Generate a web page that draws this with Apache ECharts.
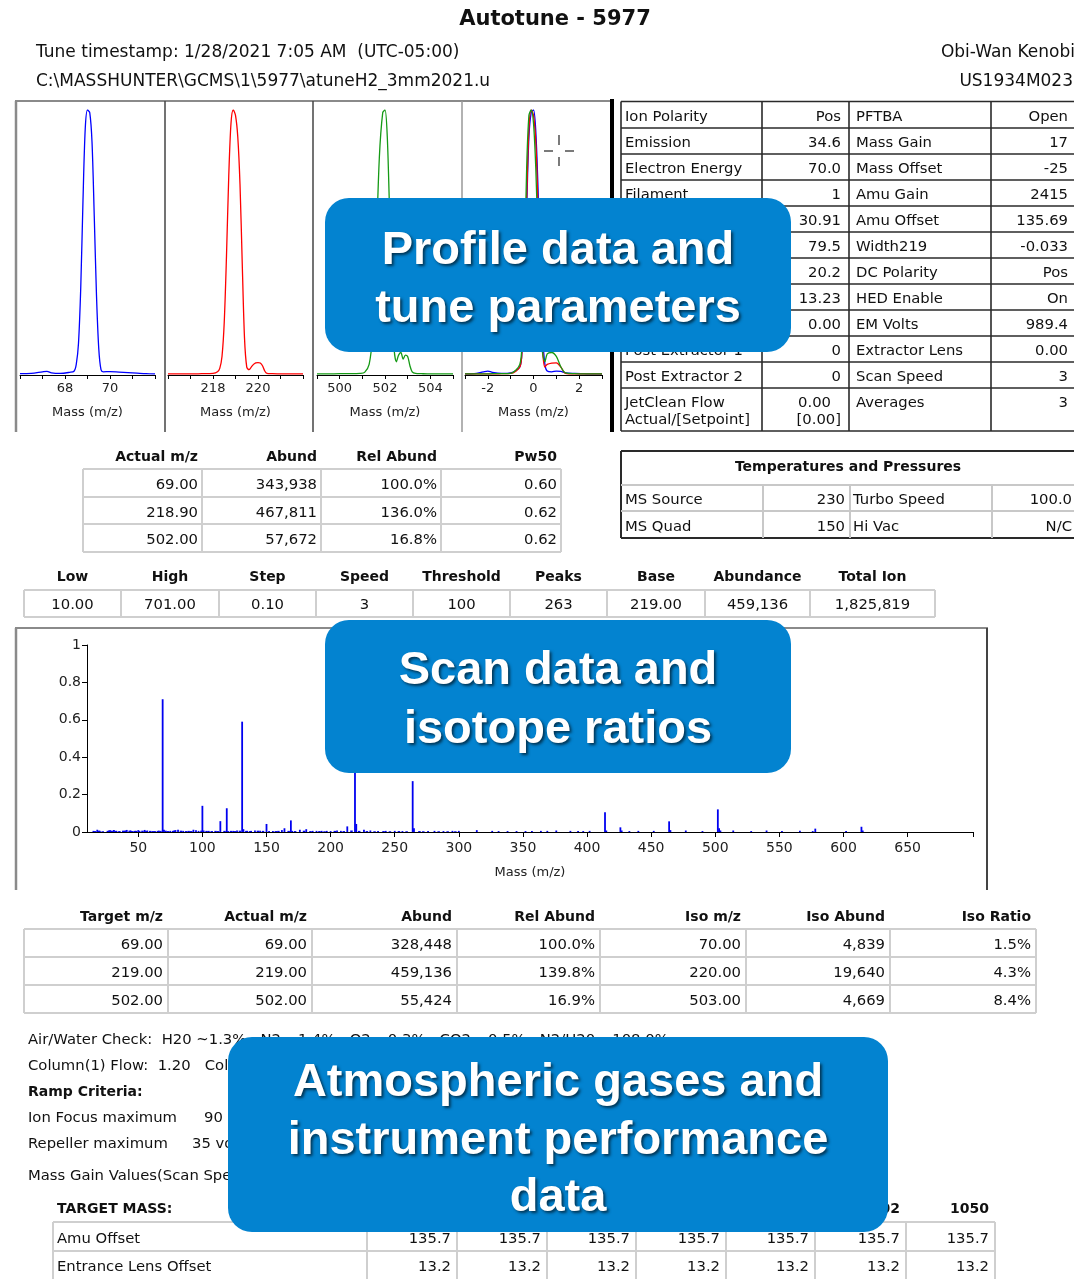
<!DOCTYPE html>
<html><head><meta charset="utf-8">
<script src="https://cdn.jsdelivr.net/npm/echarts@6/dist/echarts.min.js"></script>
<style>html,body{margin:0;padding:0;background:#fff}#c{width:1074px;height:1279px}</style>
</head><body><div id="c"></div>
<script>
// ---------------- DATA ----------------
const titleText = 'Autotune - 5977';
const timestampText = 'Tune timestamp: 1/28/2021 7:05 AM  (UTC-05:00)';
const pathText = 'C:\\MASSHUNTER\\GCMS\\1\\5977\\atuneH2_3mm2021.u';
const operatorText = 'Obi-Wan Kenobi';
const serialText = 'US1934M023';
const massAxisName = 'Mass (m/z)';

// profile peaks (relative)
const p69Mass  = [66.0,66.5,67.0,67.2,67.4,67.8,68.2,68.4,68.5,68.6,68.7,68.8,68.9,69.0,69.1,69.2,69.3,69.4,69.5,69.6,69.7,70.0,70.4,70.8,71.2,71.6,72.0];
const p69Abund = [0.005,0.006,0.012,0.014,0.008,0.006,0.010,0.014,0.04,0.12,0.33,0.66,0.93,1.0,0.99,0.88,0.60,0.30,0.10,0.02,0.012,0.013,0.011,0.009,0.007,0.005,0.004];
const p219Mass  = [216.0,216.5,217.0,217.5,218.0,218.2,218.3,218.4,218.5,218.6,218.7,218.8,218.9,219.0,219.1,219.2,219.3,219.4,219.5,219.6,219.7,219.8,219.9,220.0,220.1,220.2,220.3,220.4,220.6,221.0,221.5,222.0];
const p219Abund = [0.004,0.004,0.004,0.005,0.006,0.012,0.025,0.07,0.20,0.45,0.75,0.95,1.0,0.98,0.90,0.72,0.42,0.14,0.03,0.02,0.03,0.04,0.046,0.047,0.045,0.035,0.015,0.006,0.005,0.004,0.004,0.004];
const p502Mass  = [499.0,499.5,500.0,500.5,500.9,501.1,501.3,501.45,501.6,501.75,501.9,502.0,502.1,502.2,502.3,502.4,502.5,502.6,502.7,502.8,502.9,503.0,503.1,503.2,503.35,503.6,504.0,504.5,505.0];
const p502Abund = [0.004,0.004,0.005,0.005,0.006,0.010,0.04,0.15,0.45,0.82,0.99,1.0,0.90,0.62,0.30,0.10,0.05,0.075,0.085,0.06,0.075,0.07,0.035,0.012,0.006,0.005,0.004,0.004,0.004];
// overlay panel (offset from nominal mass)
const ovOffset = [-3,-2.6,-2.2,-2.0,-1.8,-1.4,-1.0,-0.6,-0.5,-0.4,-0.3,-0.2,-0.1,0,0.1,0.2,0.3,0.4,0.5,0.6,0.8,1.0,1.2,1.4,1.8,2.2,2.6,3.0];
const ov69  = [0.004,0.005,0.012,0.015,0.010,0.006,0.008,0.03,0.10,0.30,0.62,0.90,0.99,1.0,0.92,0.70,0.40,0.15,0.04,0.015,0.012,0.015,0.014,0.008,0.006,0.005,0.004,0.004];
const ov219 = [0.004,0.004,0.004,0.004,0.004,0.005,0.006,0.03,0.10,0.32,0.66,0.93,1.0,0.98,0.88,0.62,0.30,0.09,0.03,0.04,0.045,0.046,0.03,0.006,0.004,0.004,0.004,0.004];
const ov502 = [0.004,0.004,0.004,0.004,0.005,0.005,0.006,0.04,0.14,0.40,0.78,0.98,1.0,0.95,0.78,0.50,0.20,0.08,0.05,0.08,0.085,0.07,0.03,0.008,0.005,0.004,0.004,0.004];

// scan spectrum
const scanMass  = [15,18,20,28,31,33,41,44,50,51,55,57,63,66,69,70,75,79,81,85,93,95,97,100,101,105,114,119,120,124,127,131,132,135,138,141,145,150,152,155,162,164,169,170,176,181,186,189,193,197,200,205,208,213,219,220,226,231,237,243,250,256,264,265,276,281,288,295,300,314,326,331,338,345,352,357,364,369,376,387,393,397,402,414,415,426,427,433,440,452,464,465,477,490,502,503,504,514,528,540,552,566,576,578,602,614,615];
const scanAbund = [0.006,0.012,0.006,0.009,0.011,0.006,0.011,0.008,0.010,0.006,0.011,0.008,0.006,0.007,0.71,0.012,0.006,0.010,0.012,0.006,0.012,0.010,0.006,0.14,0.008,0.006,0.058,0.127,0.006,0.006,0.008,0.59,0.015,0.006,0.006,0.008,0.007,0.043,0.006,0.006,0.010,0.020,0.062,0.006,0.012,0.015,0.006,0.006,0.006,0.006,0.005,0.008,0.006,0.030,1.0,0.043,0.012,0.008,0.006,0.006,0.006,0.005,0.272,0.020,0.006,0.006,0.005,0.006,0.006,0.010,0.006,0.005,0.005,0.005,0.005,0.005,0.006,0.006,0.008,0.006,0.006,0.005,0.006,0.105,0.008,0.025,0.008,0.005,0.006,0.006,0.057,0.010,0.008,0.005,0.121,0.020,0.008,0.008,0.005,0.008,0.005,0.007,0.005,0.018,0.005,0.028,0.008];
// low-level baseline peaks
const noiseMass  = [16,19,22,26,27,29,32,35,38,39,40,43,45,47,48,53,56,59,61,65,67,71,73,77,78,83,87,89,91,99,103,107,110,112,117,122,125,129,134,137,143,147,157,159,167,172,179,184,191,195,203,210,216,222,228,234,241,246,253,259,269,272,284,291,297];
const noiseAbund = [0.005,0.007,0.004,0.006,0.008,0.007,0.006,0.005,0.007,0.006,0.008,0.007,0.005,0.006,0.006,0.007,0.005,0.006,0.005,0.006,0.006,0.007,0.005,0.006,0.008,0.007,0.005,0.006,0.005,0.007,0.006,0.005,0.006,0.005,0.006,0.006,0.005,0.007,0.006,0.005,0.007,0.006,0.005,0.006,0.006,0.005,0.007,0.005,0.005,0.004,0.006,0.005,0.008,0.006,0.005,0.004,0.005,0.004,0.005,0.004,0.005,0.004,0.004,0.004,0.004];
const scanTicks = [50,100,150,200,250,300,350,400,450,500,550,600,650];

// tables
const tuneRows = [
  ['Ion Polarity','Pos','PFTBA','Open'],
  ['Emission','34.6','Mass Gain','17'],
  ['Electron Energy','70.0','Mass Offset','-25'],
  ['Filament','1','Amu Gain','2415'],
  ['Repeller','30.91','Amu Offset','135.69'],
  ['Ion Focus','79.5','Width219','-0.033'],
  ['Entrance Lens','20.2','DC Polarity','Pos'],
  ['Ent Lens Offset','13.23','HED Enable','On'],
  ['Gain Factor','0.00','EM Volts','989.4'],
  ['Post Extractor 1','0','Extractor Lens','0.00'],
  ['Post Extractor 2','0','Scan Speed','3'],
  ['JetClean Flow|Actual/[Setpoint]','0.00|[0.00]','Averages','3']
];
const tempTitle = 'Temperatures and Pressures';
const tempRows = [['MS Source','230','Turbo Speed','100.0'],['MS Quad','150','Hi Vac','N/C']];
const profHeaders = ['Actual m/z','Abund','Rel Abund','Pw50'];
const profRows = [['69.00','343,938','100.0%','0.60'],['218.90','467,811','136.0%','0.62'],['502.00','57,672','16.8%','0.62']];
const scanHeaders = ['Low','High','Step','Speed','Threshold','Peaks','Base','Abundance','Total Ion'];
const scanValues = ['10.00','701.00','0.10','3','100','263','219.00','459,136','1,825,819'];
const isoHeaders = ['Target m/z','Actual m/z','Abund','Rel Abund','Iso m/z','Iso Abund','Iso Ratio'];
const isoRows = [
  ['69.00','69.00','328,448','100.0%','70.00','4,839','1.5%'],
  ['219.00','219.00','459,136','139.8%','220.00','19,640','4.3%'],
  ['502.00','502.00','55,424','16.9%','503.00','4,669','8.4%']
];
const airWater = 'Air/Water Check:  H20 ~1.3%   N2 ~1.4%   O2 ~0.3%   CO2 ~0.5%   N2/H20 ~108.0%';
const columnFlow = 'Column(1) Flow:  1.20   Column(1) Pressure';
const rampTitle = 'Ramp Criteria:';
const rampRows = [['Ion Focus maximum','90 volts'],['Repeller maximum','35 volts']];
const massGainTitle = 'Mass Gain Values(Scan Speed 3)';
const gainHeaders = ['TARGET MASS:','50','69','131','219','414','502','1050'];
const gainRows = [
  ['Amu Offset','135.7','135.7','135.7','135.7','135.7','135.7','135.7'],
  ['Entrance Lens Offset','13.2','13.2','13.2','13.2','13.2','13.2','13.2']
];
const callouts = [
  ['Profile data and','tune parameters'],
  ['Scan data and','isotope ratios'],
  ['Atmospheric gases and','instrument performance','data']
];

// ---------------- DRAWING ----------------
const FONT = "'DejaVu Sans', Verdana, sans-serif";
const ARIAL = "'Liberation Sans', Arial, sans-serif";
const TS = 14.8;   // table text size
const HS = 14;     // table header size
const g = [];
function txt(x, y, s, size, o) {
  o = o || {};
  const st = {text: s, fill: o.color || '#111', font: (o.bold ? 'bold ' : '') + size + 'px ' + (o.family || FONT),
    textAlign: o.align || 'left', textVerticalAlign: 'middle', align: o.align || 'left', verticalAlign: 'middle'};
  if (o.shadow) Object.assign(st, {textShadowColor: 'rgba(0,0,0,0.6)', textShadowBlur: 3, textShadowOffsetX: 2, textShadowOffsetY: 2});
  g.push({type: 'text', x: x, y: y + (o.dy === undefined ? 2 : o.dy), z: o.z || 10, silent: true, style: st});
}
function seg(x1, y1, x2, y2, color, w, z) {
  g.push({type: 'line', z: z || 5, silent: true, shape: {x1: x1, y1: y1, x2: x2, y2: y2}, style: {stroke: color, lineWidth: w}});
}
function gridLines(xs, ys, color, w) {
  xs.forEach(x => seg(x, ys[0], x, ys[ys.length - 1], color, w));
  ys.forEach(y => seg(xs[0], y, xs[xs.length - 1], y, color, w));
}

// header
txt(555, 18, titleText, 21, {bold: true, align: 'center'});
txt(36, 51, timestampText, 17);
txt(1075, 51, operatorText, 17, {align: 'right'});
txt(36, 80, pathText, 17);
txt(1073, 80, serialText, 17, {align: 'right'});

// profile frame
seg(15, 101, 612, 101, '#8a8a8a', 2);
seg(16, 101, 16, 432, '#8a8a8a', 2.5);
seg(165, 101, 165, 432, '#444', 1.5);
seg(313, 101, 313, 432, '#444', 1.5);
seg(462, 101, 462, 432, '#999', 1.5);
seg(612, 99, 612, 432, '#000', 4);
// cursor
seg(544, 151, 553, 151, '#222', 1.2); seg(565, 151, 574, 151, '#222', 1.2);
seg(559, 135, 559, 145, '#222', 1.2); seg(559, 157, 559, 166, '#222', 1.2);

// tune table
const tuneYs = [101.5,128,154,180,206,232,258,284,310,336,362,388,431];
gridLines([621, 762, 849, 991, 1080], tuneYs, '#2a2a2a', 1.6);
tuneRows.forEach((r, i) => {
  const y0 = tuneYs[i], y1 = tuneYs[i + 1];
  const c0 = r[0].split('|'), c1 = r[1].split('|');
  if (c0.length > 1) {
    txt(625, 401, c0[0], TS); txt(625, 418, c0[1], TS);
    txt(831, 401, c1[0], TS, {align: 'right'}); txt(841, 418, c1[1], TS, {align: 'right'});
    txt(856, 401, r[2], TS); txt(1068, 401, r[3], TS, {align: 'right'});
  } else {
    const ym = (y0 + y1) / 2;
    txt(625, ym, r[0], TS); txt(841, ym, r[1], TS, {align: 'right'});
    txt(856, ym, r[2], TS); txt(1068, ym, r[3], TS, {align: 'right'});
  }
});

// temperatures table
gridLines([621, 1080], [451, 538], '#2a2a2a', 2);
seg(621, 485, 1080, 485, '#c8c8c8', 2);
seg(621, 511, 1080, 511, '#c8c8c8', 2);
[763, 850, 992].forEach(x => seg(x, 485, x, 538, '#c8c8c8', 2));
txt(848, 465, tempTitle, HS, {bold: true, align: 'center'});
tempRows.forEach((r, i) => {
  const ym = [498, 525][i];
  txt(625, ym, r[0], TS); txt(845, ym, r[1], TS, {align: 'right'});
  txt(853, ym, r[2], TS); txt(1072, ym, r[3], TS, {align: 'right'});
});

// profile results table
const prX = [83, 202, 321, 441, 561];
gridLines(prX, [469, 497, 524, 552], '#cfcfcf', 2);
profHeaders.forEach((h, i) => txt(prX[i + 1] - 4, 455, h, HS, {bold: true, align: 'right'}));
profRows.forEach((r, j) => r.forEach((v, i) => txt(prX[i + 1] - 4, [483, 511, 538][j], v, TS, {align: 'right'})));

// scan parameter table
const spX = [24, 121, 219, 316, 413, 510, 607, 705, 810, 935];
gridLines(spX, [590, 617], '#cfcfcf', 2);
scanHeaders.forEach((h, i) => txt((spX[i] + spX[i + 1]) / 2, 575, h, HS, {bold: true, align: 'center'}));
scanValues.forEach((v, i) => txt((spX[i] + spX[i + 1]) / 2, 603, v, TS, {align: 'center'}));

// scan frame
seg(15, 628, 988, 628, '#8a8a8a', 2);
seg(16, 628, 16, 890, '#8a8a8a', 2.5);
seg(987, 628, 987, 890, '#444', 2);

// isotope table
const isX = [24, 168, 312, 457, 600, 746, 890, 1036];
gridLines(isX, [929, 957, 985, 1013], '#cfcfcf', 2);
isoHeaders.forEach((h, i) => txt(isX[i + 1] - 5, 915, h, HS, {bold: true, align: 'right'}));
isoRows.forEach((r, j) => r.forEach((v, i) => txt(isX[i + 1] - 5, [943, 971, 999][j], v, TS, {align: 'right'})));

// text block
txt(28, 1038, airWater, TS);
txt(28, 1064, columnFlow, TS);
txt(28, 1090, rampTitle, HS, {bold: true});
txt(28, 1116, rampRows[0][0], TS); txt(204, 1116, rampRows[0][1], TS);
txt(28, 1142, rampRows[1][0], TS); txt(192, 1142, rampRows[1][1], TS);
txt(28, 1174, massGainTitle, TS);

// mass gain table
const mgX = [53, 367, 457, 547, 636, 726, 815, 906, 995];
gridLines(mgX, [1222, 1251, 1281], '#cfcfcf', 2);
txt(57, 1207, gainHeaders[0], HS, {bold: true});
gainHeaders.slice(1).forEach((h, i) => txt(mgX[i + 2] - 6, 1207, h, HS, {bold: true, align: 'right'}));
gainRows.forEach((r, j) => {
  const ym = [1237, 1265][j];
  txt(57, ym, r[0], TS);
  r.slice(1).forEach((v, i) => txt(mgX[i + 2] - 6, ym, v, TS, {align: 'right'}));
});

// callouts
const boxes = [[325, 198, 466, 154, [248, 306]], [325, 620, 466, 153, [668, 727]], [228, 1037, 660, 195, [1080, 1138, 1195]]];
boxes.forEach((b, k) => {
  g.push({type: 'rect', z: 100, silent: true, shape: {x: b[0], y: b[1], width: b[2], height: b[3], r: 24}, style: {fill: '#0383d0'}});
  callouts[k].forEach((line, i) => txt(558, b[4][i], line, 47, {bold: true, align: 'center', color: '#fff', family: ARIAL, shadow: true, z: 101, dy: 3}));
});

// ---------------- CHART ----------------
const zip = (a, b) => a.map((v, i) => [v, b[i]]);
const axisFont = {fontSize: 13, color: '#222', fontFamily: FONT};
function profX(idx, min, max, labels) {
  return {type: 'value', gridIndex: idx, min: min, max: max, interval: 1,
    axisLine: {show: true, onZero: false, lineStyle: {color: '#000', width: 1}},
    axisTick: {show: true, length: 4, lineStyle: {color: '#000'}},
    splitLine: {show: false},
    axisLabel: Object.assign({margin: 7, formatter: v => labels.indexOf(Math.round(v)) >= 0 && Math.abs(v - Math.round(v)) < 1e-6 ? String(Math.round(v)) : ''}, axisFont),
    name: massAxisName, nameLocation: 'middle', nameGap: 31, nameTextStyle: axisFont};
}
function profY(idx) { return {type: 'value', gridIndex: idx, min: 0, max: 1, show: false}; }
function lineS(ax, xs, ys, color) {
  return {type: 'line', xAxisIndex: ax, yAxisIndex: ax, data: zip(xs, ys), smooth: 0.3, showSymbol: false, symbol: 'none',
    lineStyle: {color: color, width: 1.3}, itemStyle: {color: color}, animation: false, silent: true};
}
const BLUE = '#0000ff', RED = '#ff0000', GREEN = '#159a15';

const chart = echarts.init(document.getElementById('c'), null, {renderer: 'canvas'});
chart.setOption({
  backgroundColor: '#fff',
  animation: false,
  grid: [
    {left: 20, top: 110, width: 135, height: 265, outerBoundsMode: 'none'},
    {left: 168, top: 110, width: 135, height: 265, outerBoundsMode: 'none'},
    {left: 317, top: 110, width: 136, height: 265, outerBoundsMode: 'none'},
    {left: 465, top: 110, width: 137, height: 265, outerBoundsMode: 'none'},
    {left: 87, top: 645, width: 886, height: 187, outerBoundsMode: 'none'}
  ],
  xAxis: [
    profX(0, 66, 72, [68, 70]),
    profX(1, 216, 222, [218, 220]),
    profX(2, 499, 505, [500, 502, 504]),
    profX(3, -3, 3, [-2, 0, 2]),
    {type: 'value', gridIndex: 4, min: 10, max: 701,
      axisLine: {show: true, onZero: false, lineStyle: {color: '#000', width: 1}},
      axisTick: {show: true, length: 5, customValues: scanTicks.concat([701]), lineStyle: {color: '#000'}},
      axisLabel: Object.assign({margin: 9, customValues: scanTicks}, axisFont, {fontSize: 14}),
      splitLine: {show: false},
      name: massAxisName, nameLocation: 'middle', nameGap: 34, nameTextStyle: axisFont}
  ],
  yAxis: [profY(0), profY(1), profY(2), profY(3),
    {type: 'value', gridIndex: 4, min: 0, max: 1, interval: 0.2,
      axisLine: {show: true, lineStyle: {color: '#000', width: 1}},
      axisTick: {show: true, length: 5, lineStyle: {color: '#000'}},
      axisLabel: Object.assign({margin: 6}, axisFont, {fontSize: 14}),
      splitLine: {show: false}}
  ],
  series: [
    lineS(0, p69Mass, p69Abund, BLUE),
    lineS(1, p219Mass, p219Abund, RED),
    lineS(2, p502Mass, p502Abund, GREEN),
    lineS(3, ovOffset, ov69, BLUE),
    lineS(3, ovOffset, ov219, RED),
    lineS(3, ovOffset, ov502, GREEN),
    {type: 'bar', xAxisIndex: 4, yAxisIndex: 4, data: zip(noiseMass, noiseAbund), barWidth: 2.5, barGap: '-100%',
      itemStyle: {color: '#0000f0'}, silent: true, animation: false},
    {type: 'bar', xAxisIndex: 4, yAxisIndex: 4, data: zip(scanMass, scanAbund), barWidth: 1.8, barGap: '-100%',
      itemStyle: {color: '#0000f0'}, silent: true, animation: false}
  ],
  graphic: {elements: g}
});
</script></body></html>
